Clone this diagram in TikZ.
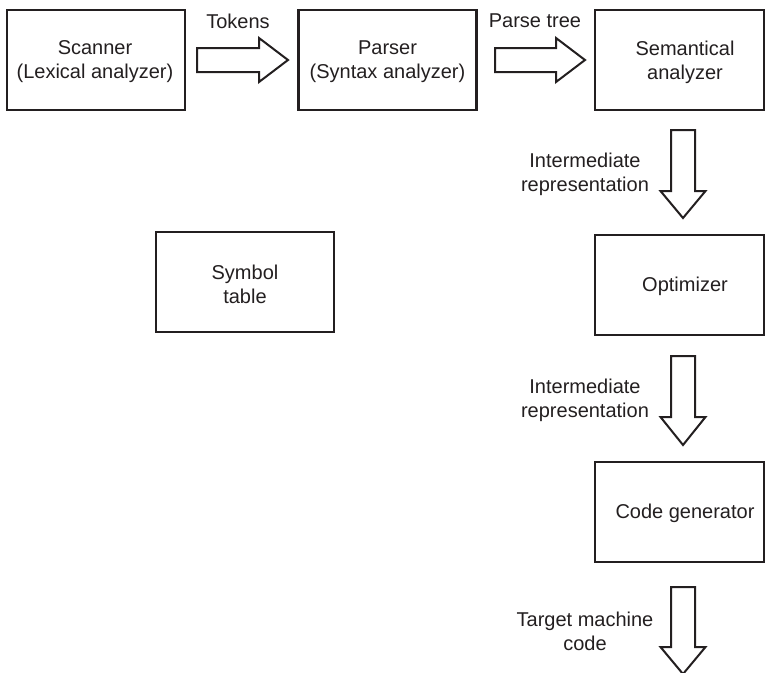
\documentclass[tikz,border=0pt]{standalone}
\usepackage{fontspec}
\setmainfont{Liberation Sans}
\definecolor{ink}{HTML}{231F20}
\begin{document}
\begin{tikzpicture}[x=1pt,y=-1pt,
  box/.style={draw=ink, line width=2.2pt, minimum width=178pt, minimum height=100pt, inner sep=0pt},
  rbox/.style={box, minimum width=169pt},
  txt/.style={text=ink, font=\fontsize{20}{24}\selectfont, align=center, inner sep=0pt},
  blockarrow/.style={draw=ink, line width=2pt, line join=miter, fill=white}]
\useasboundingbox (0,0) rectangle (765,672);
% boxes
\node[box] (scan) at (96,60) {};
\node[txt] (scant) at (95,62) {Scanner\\(Lexical analyzer)};
\node[box] (pars) at (387.5,60) {};
\node[txt] (parst) at (387.5,62) {Parser\\(Syntax analyzer)};
\node[rbox] (sem) at (679.5,60) {};
\node[txt] (semt) at (685,62) {Semantical\\analyzer};
\node[box] (sym) at (245,282) {};
\node[txt] (symt) at (245,284) {Symbol\\table};
\node[rbox] (opt) at (679.5,285) {};
\node[txt] (optt) at (685,286) {Optimizer};
\node[rbox] (cg) at (679.5,512) {};
\node[txt] (cgt) at (685,513) {Code generator};
% block arrows
\draw[blockarrow] (197,48) -- (259,48) -- (259,38) -- (288,60) -- (259,82) -- (259,72) -- (197,72) -- cycle;
\draw[blockarrow] (495,48) -- (556,48) -- (556,38) -- (585,60) -- (556,82) -- (556,72) -- (495,72) -- cycle;
\draw[blockarrow] (671,130) -- (671,191) -- (660.5,191) -- (683,218) -- (705.5,191) -- (695,191) -- (695,130) -- cycle;
\draw[blockarrow] (671,356) -- (671,417) -- (660.5,417) -- (683,445) -- (705.5,417) -- (695,417) -- (695,356) -- cycle;
\draw[blockarrow] (671,587) -- (671,647) -- (660.5,647) -- (683,674) -- (705.5,647) -- (695,647) -- (695,587) -- cycle;
% labels
\node[txt] (ltok) at (238,21) {Tokens};
\node[txt] (lpt) at (535,21) {Parse tree};
\node[txt] (lir1) at (585,174) {Intermediate\\representation};
\node[txt] (lir2) at (585,400) {Intermediate\\representation};
\node[txt] (ltmc) at (585,631) {Target machine\\code};
\end{tikzpicture}
\end{document}
